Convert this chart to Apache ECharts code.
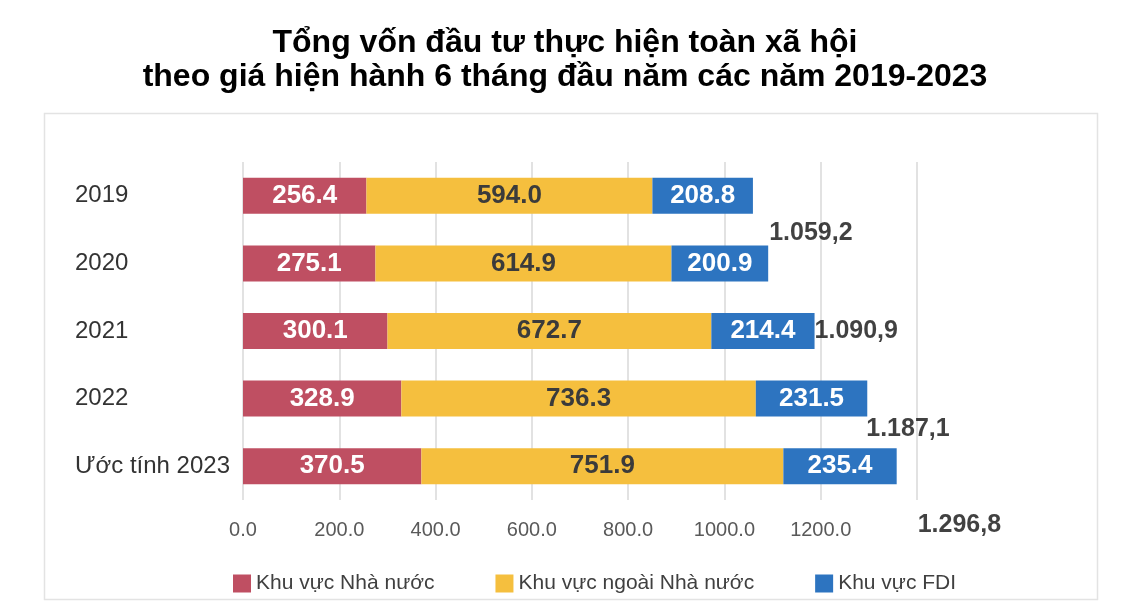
<!DOCTYPE html>
<html>
<head>
<meta charset="utf-8">
<script src="https://cdn.jsdelivr.net/npm/echarts@6/dist/echarts.min.js"></script>
<style>html,body{margin:0;padding:0;background:#fff}#c{width:1130px;height:608px}</style>
</head>
<body>
<div id="c"></div>
<script>
// ---- data ----
const categories = ['2019', '2020', '2021', '2022', 'Ước tính 2023'];
const stateSector = [256.4, 275.1, 300.1, 328.9, 370.5];
const nonStateSector = [594.0, 614.9, 672.7, 736.3, 751.9];
const fdiSector = [208.8, 200.9, 214.4, 231.5, 235.4];
const seriesNames = ['Khu vực Nhà nước', 'Khu vực ngoài Nhà nước', 'Khu vực FDI'];
const totalLabels = ['1.059,2', '1.090,9', '1.187,1', '1.296,8'];
const xTickValues = [0, 200, 400, 600, 800, 1000, 1200, 1400];

// ---- chart ----
const chart = echarts.init(document.getElementById('c'));
const rowSum = i => stateSector[i] + nonStateSector[i] + fdiSector[i];
// total labels in the reference sit beside the following row's bar
const totalAnchorRows = [1, 2, 3, 4];
const totalOffsets = [[1, -30], [0, 0], [-1, 31], [21, 59]];

const sans = '"Liberation Sans", Arial, sans-serif';

function barSeries(name, data, color, labelColor) {
  return {
    name, type: 'bar', stack: 'total', data, barWidth: 36,
    itemStyle: { color },
    label: {
      show: true, position: 'inside', color: labelColor,
      fontFamily: sans, fontWeight: 'bold', fontSize: 26,
      formatter: p => p.value.toFixed(1)
    }
  };
}

chart.setOption({
  animation: false,
  backgroundColor: '#ffffff',
  title: {
    text: 'Tổng vốn đầu tư thực hiện toàn xã hội\ntheo giá hiện hành 6 tháng đầu năm các năm 2019-2023',
    left: 'center', top: 21,
    textStyle: { fontFamily: sans, fontWeight: 'bold', fontSize: 32, lineHeight: 34, color: '#000' }
  },
  graphic: [{
    type: 'rect', left: 42, top: 111, z: -1,
    shape: { width: 1053, height: 486 },
    style: { fill: 'none', stroke: '#e3e3e3', lineWidth: 1.5 }
  }],
  legend: {
    left: 228, top: 568, itemWidth: 18, itemHeight: 18, itemGap: 61,
    icon: 'rect',
    data: seriesNames,
    textStyle: { fontFamily: sans, fontSize: 21, color: '#404040' }
  },
  grid: { left: 243, right: 213, top: 162, bottom: 108 },
  xAxis: {
    type: 'value', min: xTickValues[0], max: xTickValues[xTickValues.length - 1], interval: 200,
    axisLine: { show: false }, axisTick: { show: false },
    splitLine: { lineStyle: { color: '#d9d9d9', width: 1.5 } },
    axisLabel: {
      margin: 20, fontFamily: sans, fontSize: 20, color: '#595959',
      formatter: v => (v === 1400 ? '' : v.toFixed(1))
    }
  },
  yAxis: {
    type: 'category', data: categories, inverse: true,
    axisLine: { show: false }, axisTick: { show: false },
    axisLabel: { align: 'left', margin: 168, fontFamily: sans, fontSize: 24, color: '#333' }
  },
  series: [
    barSeries(seriesNames[0], stateSector, '#BF4F62', '#ffffff'),
    barSeries(seriesNames[1], nonStateSector, '#F5BF3E', '#3b3b3b'),
    barSeries(seriesNames[2], fdiSector, '#2D74C0', '#ffffff'),
    {
      type: 'scatter', symbolSize: 0, silent: true,
      data: totalLabels.map((t, i) => ({
        value: [rowSum(totalAnchorRows[i]), categories[totalAnchorRows[i]]],
        label: { offset: totalOffsets[i] }
      })),
      label: {
        show: true, position: 'right', distance: 0, color: '#111',
        fontFamily: sans, fontWeight: 'bold', fontSize: 25,
        formatter: p => totalLabels[p.dataIndex]
      }
    }
  ]
});
</script>
</body>
</html>
